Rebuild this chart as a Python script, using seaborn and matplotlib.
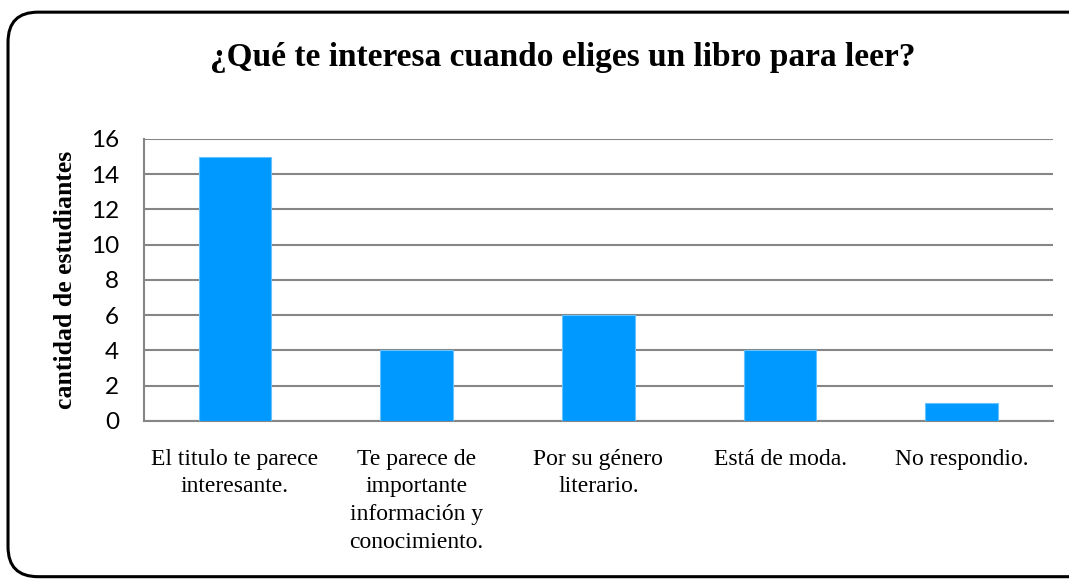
import matplotlib
matplotlib.use("Agg")
import matplotlib.pyplot as plt
from matplotlib.patches import FancyBboxPatch
import seaborn as sns

# Data
categories = [
    "El titulo te parece\ninteresante.",
    "Te parece de\nimportante\ninformación y\nconocimiento.",
    "Por su género\nliterario.",
    "Está de moda.",
    "No respondio.",
]
values = [15, 4, 6, 4, 1]
y_ticks = [0, 2, 4, 6, 8, 10, 12, 14, 16]

sns.set_style("white")
plt.rcParams["font.family"] = ["Lato", "DejaVu Sans"]
plt.rcParams["text.color"] = "black"

fig = plt.figure(figsize=(10.69, 5.79), dpi=100)

# Rounded outer frame like the Excel chart area
frame = FancyBboxPatch((0.0075, 0.004), 1.2, 0.975, boxstyle="round,pad=0,rounding_size=0.028",
                       transform=fig.transFigure, facecolor="none", edgecolor="black",
                       linewidth=2.2, mutation_aspect=1069 / 579, zorder=5)
fig.patches.append(frame)

ax = fig.add_axes([0.1347, 0.2729, 0.850, 0.4871])
ax.set_facecolor("none")

sns.barplot(x=categories, y=values, color="#0099FF", width=0.4, saturation=1,
            edgecolor="#66C2FF", linewidth=0.8, ax=ax, zorder=3)

ax.set_ylim(0, 16)
ax.set_yticks(y_ticks)
ax.set_yticklabels([str(t) for t in y_ticks], fontsize=17.5, color="black")
ax.set_xlim(-0.5, len(categories) - 0.5)
ax.set_xticks(range(len(categories)))
ax.set_xticklabels(categories, fontfamily="Liberation Serif", fontsize=17,
                   color="black", va="top", linespacing=1.42)
ax.yaxis.grid(True, color="#868686", linewidth=1.5)
ax.set_axisbelow(True)

for side in ["top", "right"]:
    ax.spines[side].set_visible(False)
for side in ["left", "bottom"]:
    ax.spines[side].set_color("#868686")
    ax.spines[side].set_linewidth(1.5)

ax.tick_params(axis="y", length=0, pad=18)
ax.tick_params(axis="x", length=0, pad=20)

ax.set_ylabel("cantidad de estudiantes", fontfamily="Liberation Serif", fontsize=18.5,
              fontweight="bold", labelpad=10, color="black")
ax.set_xlabel("")

fig.text(0.526, 0.900, "¿Qué te interesa cuando eliges un libro para leer?",
         ha="center", va="center", fontfamily="Liberation Serif", fontsize=24,
         fontweight="bold", color="black")

fig.savefig("out.png", dpi=100)
